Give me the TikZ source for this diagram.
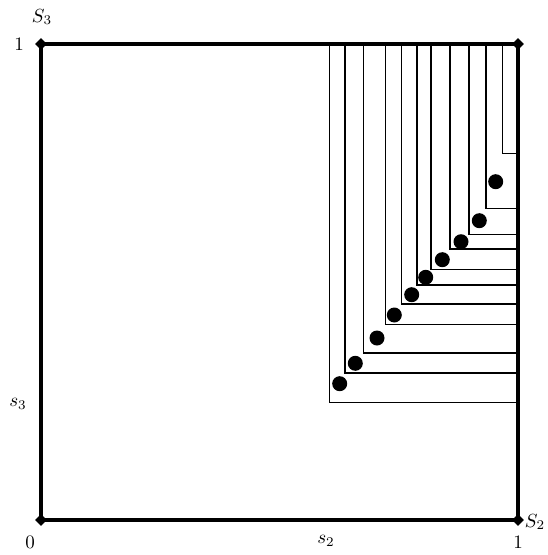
\documentclass[tikz,border=0pt]{standalone}
\usetikzlibrary{shapes.geometric}
\newcommand{\biglab}[1]{\scalebox{1.9}{$#1$}}
\begin{document}
\begin{tikzpicture}[x=1pt,y=-1pt,
  thick edge/.style={line width=3.8pt},
  thin edge/.style={line width=1.1pt},
  corner/.style={diamond,fill=black,inner sep=0pt,minimum size=12pt},
  dot/.style={circle,fill=black,inner sep=0pt,minimum size=15pt},
  lab/.style={inner sep=0pt}]
\useasboundingbox (0,0) rectangle (548,555);
\coordinate (TL) at (41,44);
\coordinate (TR) at (518,44);
\coordinate (BL) at (41,520);
\coordinate (BR) at (518,520);
% L-shapes
\foreach \x/\y in {329.3/402.3,345/373,363.7/353,385.7/324.7,401.3/304,417/285,431/269.3,450/249,469/234.3,486/208.3,502.7/153.3}{
  \draw[thin edge] (\x,44) -- (\x,\y) -- (518,\y);
}
\draw[thick edge,line cap=round,line join=round] (TL) -- (TR) -- (BR) -- (BL) -- cycle;
\foreach \n in {TL,TR,BL,BR}{\node[corner] (c\n) at (\n) {};}
% dots
\foreach \x/\y [count=\i] in {495.7/181.7,479.3/220.7,461/241.7,442.3/259.7,425.7/277.3,411.7/294.7,394.3/315,377/338,355.3/363.3,339.7/383.7}{
  \node[dot] (d\i) at (\x,\y) {};
}
% labels
\node[lab] (S3) at (42,17) {\biglab{S_3}};
\node[lab] (one3) at (19,44) {\biglab{1}};
\node[lab] (s3) at (18,404) {\biglab{s_3}};
\node[lab] (zero) at (30,542) {\biglab{0}};
\node[lab] (s2) at (326,541) {\biglab{s_2}};
\node[lab] (one2) at (518,542) {\biglab{1}};
\node[lab] (S2) at (535,522) {\biglab{S_2}};
\end{tikzpicture}
\end{document}
